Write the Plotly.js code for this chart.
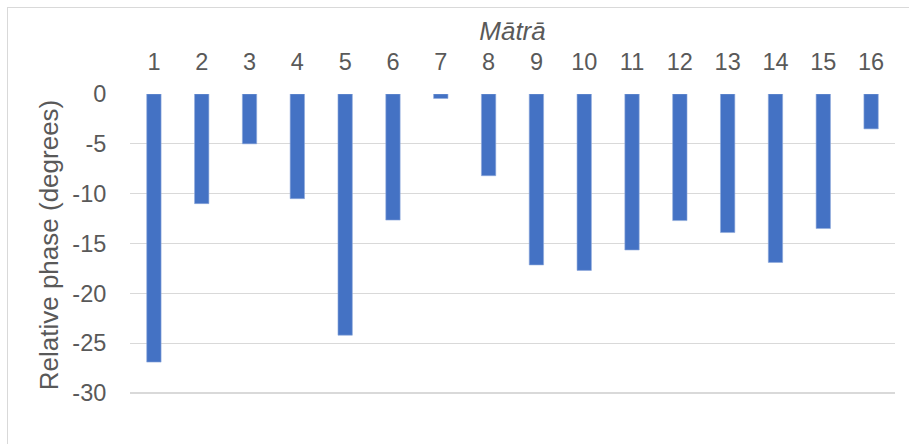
<!DOCTYPE html>
<html>
<head>
<meta charset="utf-8">
<script src="https://cdn.plot.ly/plotly-3.0.1.min.js"></script>
<style>
  html, body { margin: 0; padding: 0; background: #ffffff; overflow: hidden; }
  #wrap { position: relative; width: 909px; height: 444px; }
  #chart { position: absolute; left: 0; top: 0; width: 909px; height: 444px; }
  #frame { position: absolute; left: 7px; top: 7px; width: 1000px; height: 1000px;
           border-left: 1px solid #d9d9d9; border-top: 1px solid #d9d9d9; pointer-events: none; }
</style>
</head>
<body>
<div id="wrap">
  <div id="chart"></div>
  <div id="frame"></div>
</div>
<script>
// Data
const matra = ['1','2','3','4','5','6','7','8','9','10','11','12','13','14','15','16'];
const relativePhase = [-26.9, -11.0, -5.0, -10.5, -24.2, -12.65, -0.45, -8.2, -17.15, -17.7, -15.65, -12.7, -13.9, -16.9, -13.5, -3.5];
const yTickValues = [0, -5, -10, -15, -20, -25, -30];
const xAxisTitle = 'Mātrā';
const yAxisTitle = 'Relative phase (degrees)';

const fontFamily = 'Liberation Sans, Arial, sans-serif';
const textColor = '#595959';

const trace = {
  type: 'bar',
  x: matra,
  y: relativePhase,
  width: 0.3,
  marker: { color: '#4472C4', line: { color: '#8eaadc', width: 0.6 } },
  hoverinfo: 'x+y'
};

const layout = {
  width: 909,
  height: 444,
  margin: { l: 130, r: 14, t: 94, b: 48 },
  paper_bgcolor: '#ffffff',
  plot_bgcolor: '#ffffff',
  showlegend: false,
  font: { family: fontFamily, color: textColor, size: 23 },
  xaxis: {
    type: 'category',
    side: 'top',
    showgrid: false,
    showline: false,
    zeroline: false,
    ticks: 'outside',
    ticklen: 14,
    tickcolor: 'rgba(0,0,0,0)',
    tickfont: { family: fontFamily, color: textColor, size: 23.5 },
    title: { text: '<i>' + xAxisTitle + '</i>', font: { family: fontFamily, color: textColor, size: 26 }, standoff: 0 },
    fixedrange: true
  },
  yaxis: {
    range: [-30.3, 0],
    tickvals: yTickValues,
    ticktext: yTickValues.map(String),
    showgrid: true,
    gridcolor: '#d9d9d9',
    gridwidth: 1.3,
    zeroline: false,
    showline: false,
    ticks: 'outside',
    ticklen: 18,
    tickcolor: 'rgba(0,0,0,0)',
    tickfont: { family: fontFamily, color: textColor, size: 23.5 },
    title: { text: yAxisTitle, font: { family: fontFamily, color: textColor, size: 26 }, standoff: 6 },
    fixedrange: true
  },
  bargap: 0.7
};

Plotly.newPlot('chart', [trace], layout, { displayModeBar: false, staticPlot: true });
</script>
</body>
</html>
